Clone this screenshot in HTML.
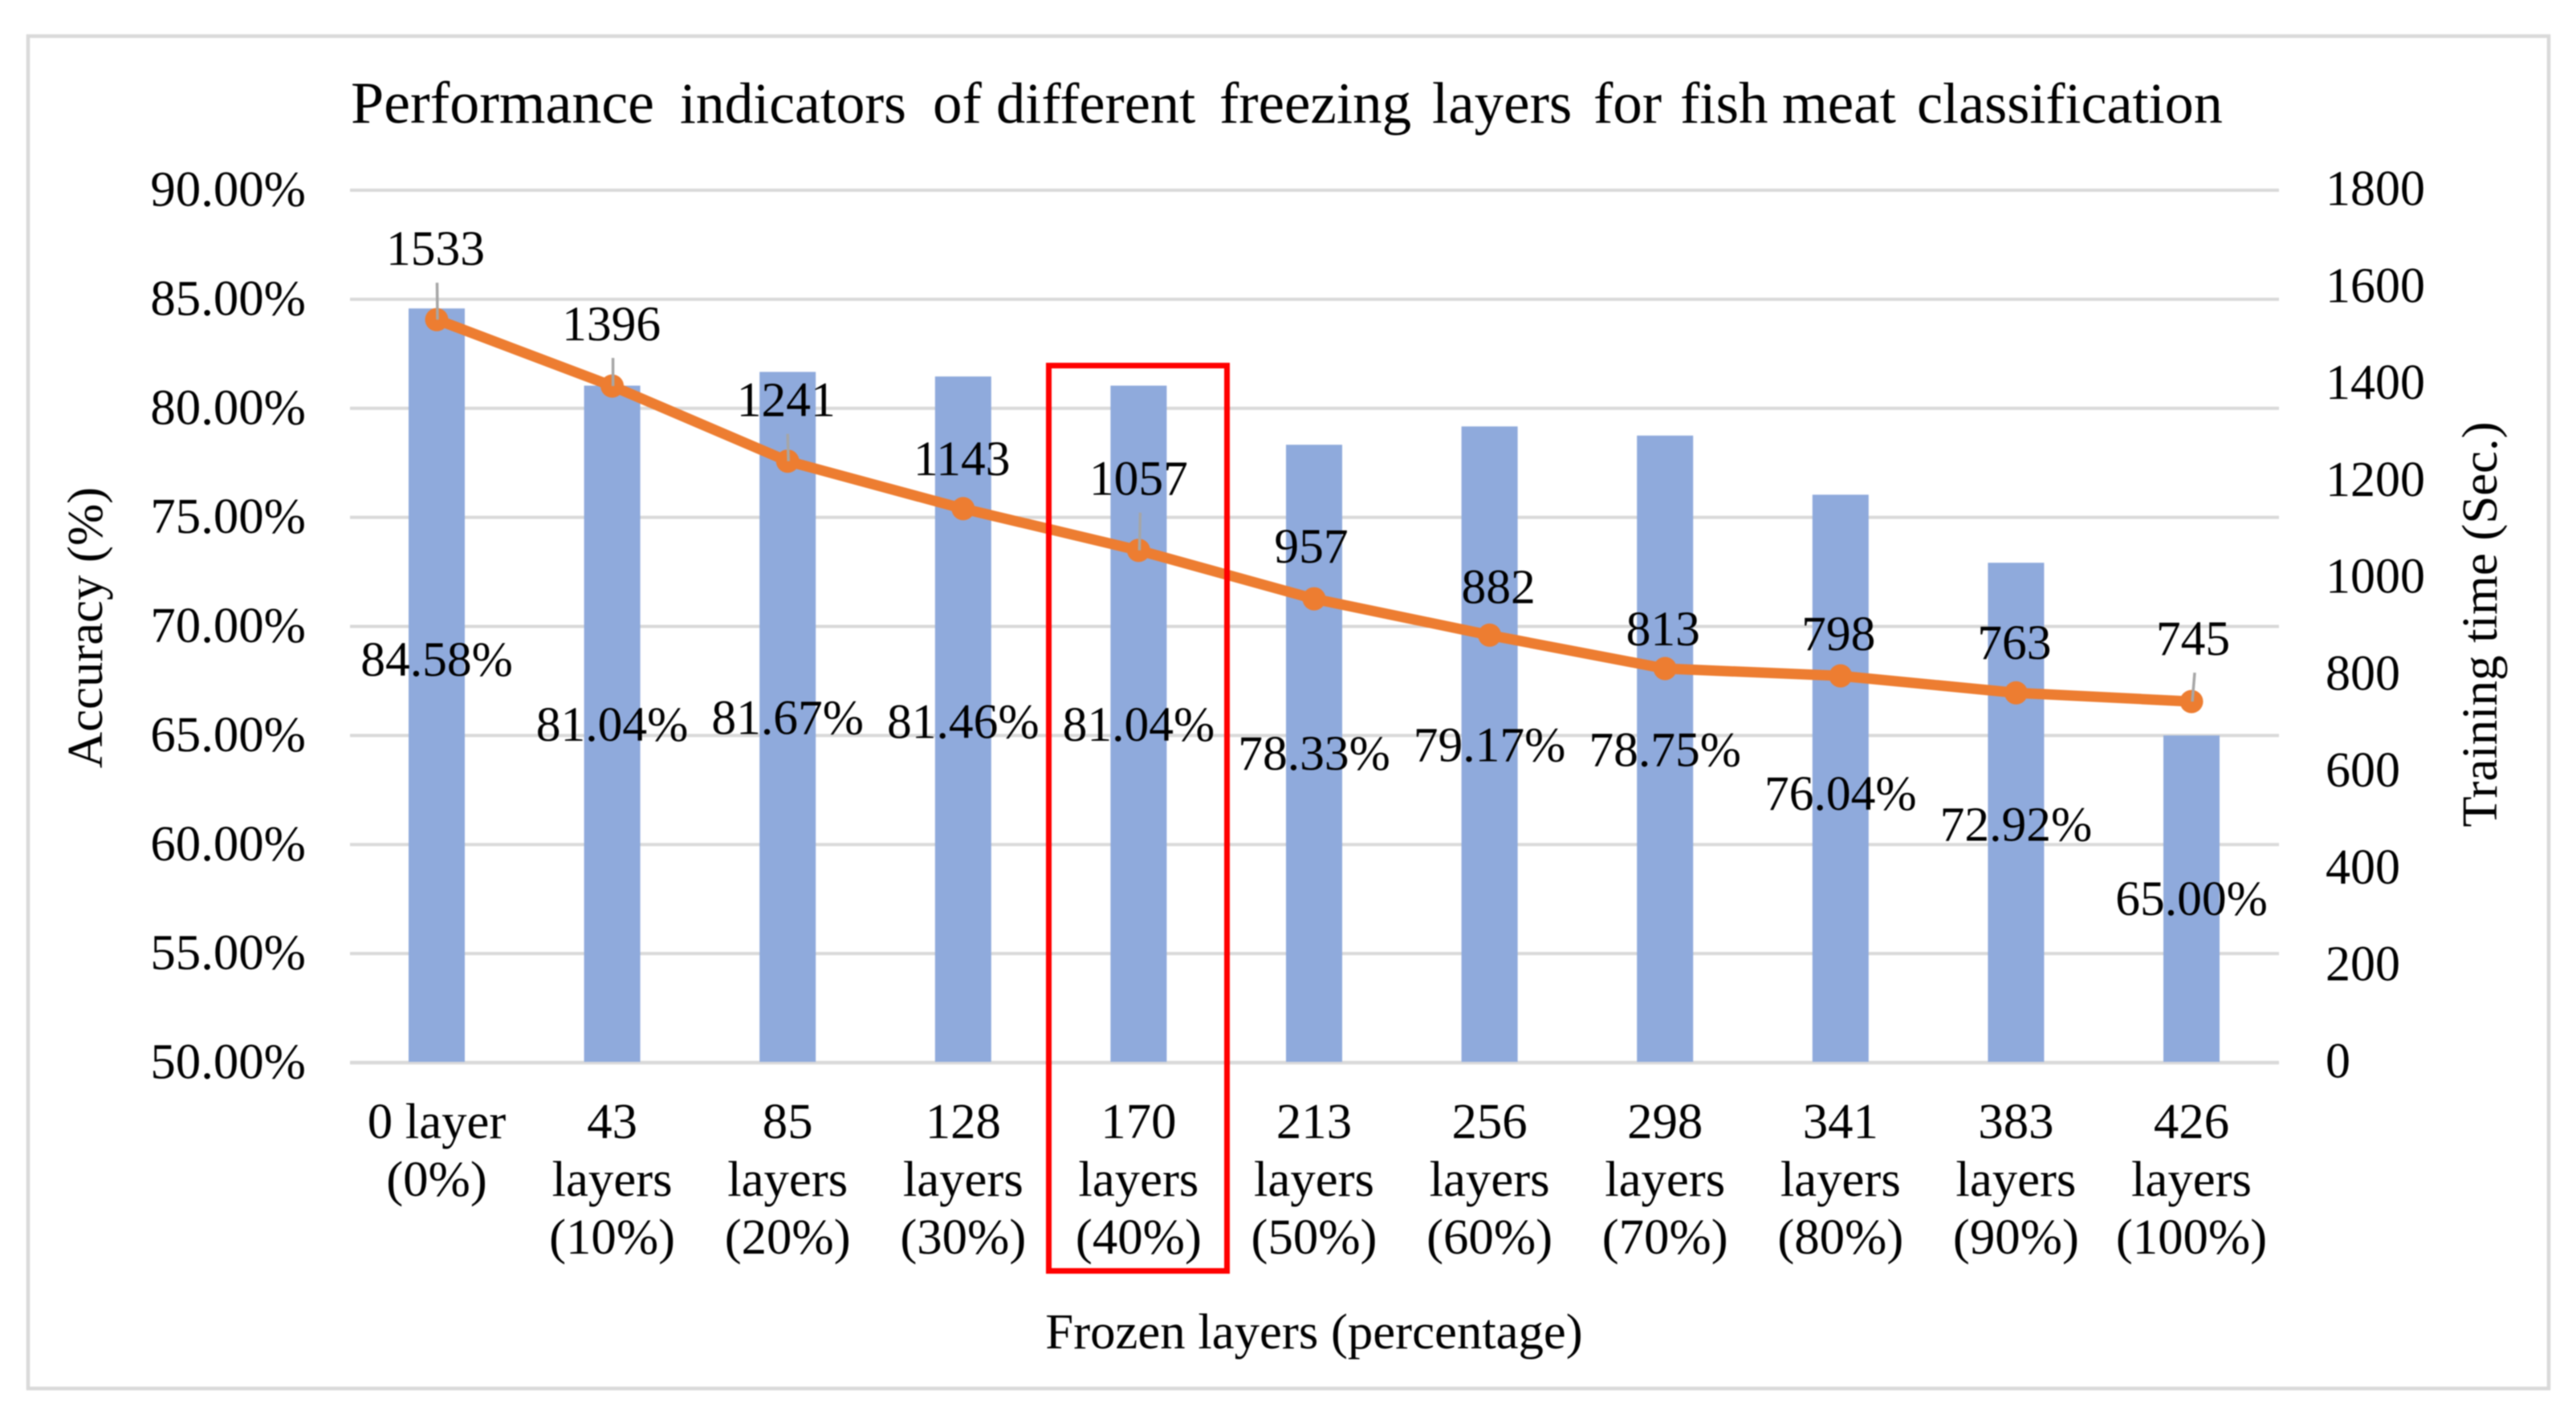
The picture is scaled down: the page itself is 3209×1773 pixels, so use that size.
<!DOCTYPE html>
<html lang="en">
<head>
<meta charset="utf-8">
<title>Performance indicators of different freezing layers</title>
<style>
  html, body { margin: 0; padding: 0; background: #fff; }
  body { width: 3209px; height: 1773px; overflow: hidden; }
  svg { display: block; filter: blur(0.9px); }
  text { font-family: "Liberation Serif", "Times New Roman", serif; fill: #000; font-size: 62.8px; }
</style>
</head>
<body>
<svg id="chart" xmlns="http://www.w3.org/2000/svg" width="3209" height="1773" viewBox="0 0 3209 1773">
  <rect x="0" y="0" width="3209" height="1773" fill="#ffffff"/>
  <rect x="35" y="45" width="3140" height="1685" fill="#ffffff" stroke="#d9d9d9" stroke-width="4.5"/>
  <text y="153" style="font-size:73px"><tspan x="437" style="font-size:74px">Performance</tspan> <tspan x="847" style="font-size:71.5px">indicators</tspan> <tspan x="1162">of</tspan> <tspan x="1241" style="font-size:72.5px">different</tspan> <tspan x="1519">freezing</tspan> <tspan x="1784">layers</tspan> <tspan x="1985">for</tspan> <tspan x="2093">fish</tspan> <tspan x="2220">meat</tspan> <tspan x="2388" style="font-size:72.2px">classification</tspan></text>
  <g id="gridlines"></g>
  <g id="left-ticks"></g>
  <g id="right-ticks"></g>
  <g id="bars"></g>
  <g id="line"></g>
  <g id="x-labels"></g>
  <g id="bar-labels"></g>
  <g id="line-labels"></g>
  <rect x="1306.5" y="455.5" width="222" height="1128" fill="none" stroke="#ff0000" stroke-width="7"/>
  <text text-anchor="middle" transform="translate(127 782) rotate(-90)">Accuracy (%)</text>
  <text text-anchor="middle" transform="translate(3110 778) rotate(-90)">Training time (Sec.)</text>
  <text text-anchor="middle" x="1637" y="1680">Frozen layers (percentage)</text>
</svg>
<script>
const categories = [
  ["0 layer", "(0%)"],
  ["43", "layers", "(10%)"],
  ["85", "layers", "(20%)"],
  ["128", "layers", "(30%)"],
  ["170", "layers", "(40%)"],
  ["213", "layers", "(50%)"],
  ["256", "layers", "(60%)"],
  ["298", "layers", "(70%)"],
  ["341", "layers", "(80%)"],
  ["383", "layers", "(90%)"],
  ["426", "layers", "(100%)"]
];
const accuracyValues = [84.58, 81.04, 81.67, 81.46, 81.04, 78.33, 79.17, 78.75, 76.04, 72.92, 65.00];
const trainingValues = [1533, 1396, 1241, 1143, 1057, 957, 882, 813, 798, 763, 745];
const leftTicks = [50, 55, 60, 65, 70, 75, 80, 85, 90];
const rightTicks = [0, 200, 400, 600, 800, 1000, 1200, 1400, 1600, 1800];
/* Manual label nudges (label placement in the source chart), not data. */
const accuracyLabelNudgeY = [-33, 0, 0, 2, 0, -1, 0, 0, 18, 14, -1];
const trainingLabelNudgeX = [-1.5, -1, -2, -1.6, 0, -3.5, 11, -2.5, -2.5, -2, 2];
const trainingLabelNudgeY = [-68, -57, -56, -42, -69, -45, -40, -29, -32, -42, -58];
const trainingLeaderVisible = [true, true, true, false, true, false, false, false, false, false, true];

const SVG_NS = "http://www.w3.org/2000/svg";
const plotLeft = 434.7, plotRight = 2839.3, plotBottom = 1324, plotTop = 237;
const gridLeft = 436, gridRight = 2839;
const catStep = (plotRight - plotLeft) / categories.length;
const barWidth = 70;
const xPos = i => plotLeft + catStep * (i + 0.5);
const yLeft = v => plotBottom - (v - 50) / (90 - 50) * (plotBottom - plotTop);
const yRight = v => plotBottom - v / 1800 * (plotBottom - plotTop);

function make(tag, parentId, attrs, content) {
  const el = document.createElementNS(SVG_NS, tag);
  for (const k in attrs) el.setAttribute(k, attrs[k]);
  if (content !== undefined) el.textContent = content;
  document.getElementById(parentId).appendChild(el);
  return el;
}

leftTicks.forEach(t => {
  const grid = make("line", "gridlines", { x1: gridLeft, x2: gridRight, y1: yLeft(t), y2: yLeft(t), stroke: "#d9d9d9", "stroke-width": t === 50 ? 4.5 : 4 });
  
  
  const label = make("text", "left-ticks", { x: 381, y: yLeft(t) + 19.5, "text-anchor": "end" }, t.toFixed(2) + "%");
  
  
});

rightTicks.forEach(t => {
  const label = make("text", "right-ticks", { x: 2897, y: yRight(t) + 18.5, "text-anchor": "start", style: "font-size:62px" }, String(t));
  
  
});

accuracyValues.forEach((v, i) => {
  const bar = make("rect", "bars", { x: xPos(i) - barWidth / 2, y: yLeft(v), width: barWidth, height: plotBottom - 1 - yLeft(v), fill: "#8faadc" });
  
  
});

const points = trainingValues.map((v, i) => xPos(i) + "," + yRight(v)).join(" ");
const trend = make("polyline", "line", { points: points, fill: "none", stroke: "#ed7d31", "stroke-width": 13, "stroke-linejoin": "round" });



trainingValues.forEach((v, i) => {
  const dot = make("circle", "line", { cx: xPos(i), cy: yRight(v), r: 14.5, fill: "#ed7d31" });
  
  
  const lx = xPos(i) + trainingLabelNudgeX[i];
  const ly = yRight(v) + trainingLabelNudgeY[i];
  const label = make("text", "line-labels", { x: lx, y: ly, "text-anchor": "middle", style: "font-size:61.5px" }, String(v));
  
  
  if (trainingLeaderVisible[i]) {
    const leader = make("line", "line", { x1: lx + 2, y1: ly + 22, x2: xPos(i) + 1, y2: yRight(v), stroke: "#a6a6a6", "stroke-width": 3.5 });
    
    
  }
});

accuracyValues.forEach((v, i) => {
  const cy = (yLeft(v) + plotBottom) / 2 + 21 + accuracyLabelNudgeY[i];
  const label = make("text", "bar-labels", { x: xPos(i), y: cy, "text-anchor": "middle", style: "font-size:61.5px" }, v.toFixed(2) + "%");
  
  
});

categories.forEach((lines, i) => {
  lines.forEach((txt, j) => {
    const label = make("text", "x-labels", { x: xPos(i), y: 1418 + j * 72, "text-anchor": "middle" }, txt);
    
    
  });
});
</script>
</body>
</html>
